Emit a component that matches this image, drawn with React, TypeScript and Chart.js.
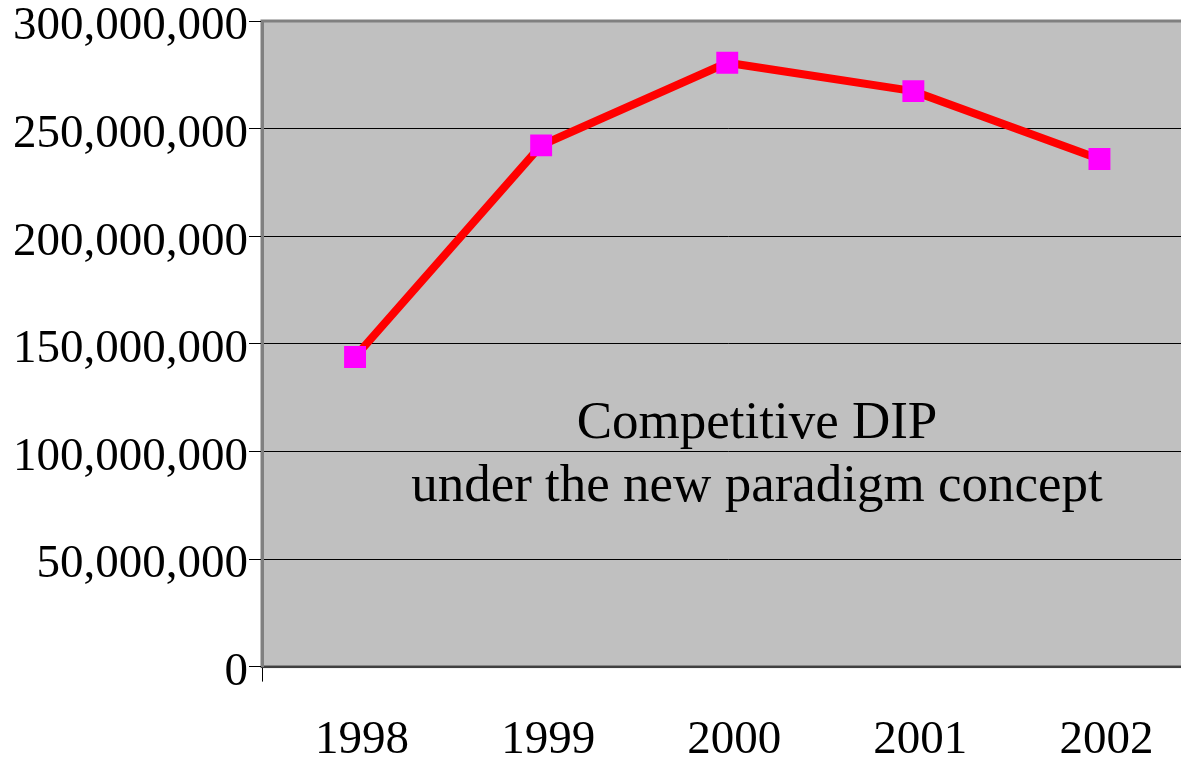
import React, { useEffect, useRef } from "react";
import { Chart, registerables } from "chart.js";

Chart.register(...registerables);

const years: string[] = ["1998", "1999", "2000", "2001", "2002"];
const dipValues: number[] = [143900000, 242200000, 280600000, 267400000, 235900000];
const yTickValues: number[] = [0, 50000000, 100000000, 150000000, 200000000, 250000000, 300000000];
const annotationLines: string[] = ["Competitive DIP", "under the new paradigm concept"];

const FONT = "'Liberation Serif', 'Times New Roman', serif";

const plotBackground = {
  id: "plotBackground",
  beforeDraw(chart: any) {
    const { ctx, chartArea } = chart;
    const { left, top, right, bottom } = chartArea;
    ctx.save();
    ctx.fillStyle = "#C0C0C0";
    ctx.fillRect(left, top, right - left, bottom - top);
    ctx.strokeStyle = "#808080";
    ctx.lineWidth = 3;
    ctx.strokeRect(left, top, right - left, bottom - top);
    ctx.restore();
  },
};

const annotationText = {
  id: "annotationText",
  afterDatasetsDraw(chart: any) {
    const { ctx } = chart;
    ctx.save();
    ctx.fillStyle = "#000000";
    ctx.font = `53px ${FONT}`;
    ctx.textAlign = "center";
    ctx.textBaseline = "alphabetic";
    ctx.fillText(annotationLines[0], 757, 438);
    ctx.fillText(annotationLines[1], 757, 501);
    ctx.restore();
  },
};

export default function App() {
  const canvasRef = useRef<HTMLCanvasElement | null>(null);

  useEffect(() => {
    const canvas = canvasRef.current;
    if (!canvas) return;
    const chart = new Chart(canvas, {
      type: "line",
      data: {
        labels: years,
        datasets: [
          {
            data: dipValues,
            borderColor: "#FF0000",
            borderWidth: 8,
            pointStyle: "rect",
            pointRadius: 15.5,
            pointHoverRadius: 15.5,
            pointBackgroundColor: "#FF00FF",
            pointBorderColor: "#FF00FF",
            pointBorderWidth: 0,
            tension: 0,
            fill: false,
          },
        ],
      },
      options: {
        responsive: false,
        animation: false,
        events: [],
        layout: { padding: { left: 12, top: 21, right: 5, bottom: 0 } },
        plugins: {
          legend: { display: false },
          tooltip: { enabled: false },
          title: { display: false },
        },
        scales: {
          x: {
            type: "category",
            offset: true,
            grid: {
              offset: true,
              drawOnChartArea: false,
              drawTicks: true,
              tickLength: 15,
              tickColor: (ctx: any) => (ctx.index === 0 ? "#000000" : "rgba(0,0,0,0)"),
              color: "rgba(0,0,0,0)",
            },
            border: { display: true, color: "#404040", width: 2 },
            ticks: {
              color: "#000000",
              font: { family: FONT, size: 47 },
              padding: 31,
              labelOffset: 7,
              maxRotation: 0,
              autoSkip: false,
            },
          },
          y: {
            min: 0,
            max: 300000000,
            afterBuildTicks: (scale: any) => {
              scale.ticks = yTickValues.map((v) => ({ value: v }));
            },
            afterFit: (scale: any) => {
              scale.width = 250;
            },
            grid: {
              color: (ctx: any) =>
                ctx.tick && ctx.tick.value === 300000000 ? "rgba(0,0,0,0)" : "#000000",
              lineWidth: 1,
              tickColor: "#000000",
              tickLength: 13,
              drawTicks: true,
            },
            border: { display: true, color: "#808080", width: 3 },
            ticks: {
              color: "#000000",
              font: { family: FONT, size: 47, lineHeight: 0.8 },
              padding: 1,
              labelOffset: 6,
              callback: (v: any) => Number(v).toLocaleString("en-US"),
            },
          },
        },
      },
      plugins: [plotBackground, annotationText],
    });
    return () => chart.destroy();
  }, []);

  return (
    <div
      style={{
        position: "fixed",
        left: 0,
        top: 0,
        width: 1181,
        height: 760,
        overflow: "hidden",
        background: "#ffffff",
      }}
    >
      <canvas ref={canvasRef} width={1208} height={800} style={{ display: "block" }} />
    </div>
  );
}
